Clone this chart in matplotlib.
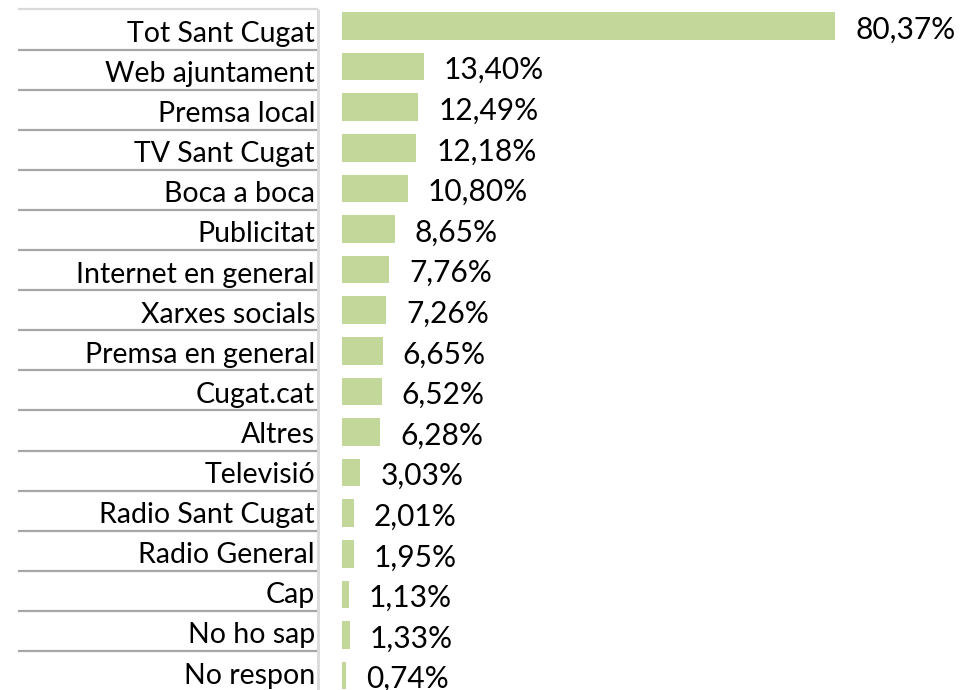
import matplotlib
matplotlib.use("Agg")
import matplotlib.pyplot as plt

categories = ["Tot Sant Cugat", "Web ajuntament", "Premsa local", "TV Sant Cugat",
              "Boca a boca", "Publicitat", "Internet en general", "Xarxes socials",
              "Premsa en general", "Cugat.cat", "Altres", "Televisió",
              "Radio Sant Cugat", "Radio General", "Cap", "No ho sap", "No respon"]
values = [80.37, 13.40, 12.49, 12.18, 10.80, 8.65, 7.76, 7.26, 6.65, 6.52, 6.28,
          3.03, 2.01, 1.95, 1.13, 1.33, 0.74]
value_labels = ["80,37%", "13,40%", "12,49%", "12,18%", "10,80%", "8,65%", "7,76%",
                "7,26%", "6,65%", "6,52%", "6,28%", "3,03%", "2,01%", "1,95%",
                "1,13%", "1,33%", "0,74%"]

FONT = "Lato"
FS_CAT = 20.5
FS_VAL = 21.5
BAR_COLOR = "#c4d79b"
W, H = 974, 690

fig = plt.figure(figsize=(W / 100, H / 100), dpi=100)
fig.patch.set_facecolor("white")

n = len(categories)

# ---- bar axes ----
px_unit = 6.138
x0_px = 318
bar_start_px = 341.7
xmin = -(bar_start_px - x0_px) / px_unit
xmax = (W - bar_start_px) / px_unit
row_h = 40.6
top_px = 26 - row_h / 2
bot_px = top_px + n * row_h
ax = fig.add_axes([x0_px / W, (H - bot_px) / H, (W - x0_px) / W, (bot_px - top_px) / H])
ax.set_xlim(xmin, xmax)
ax.set_ylim(n - 0.5, -0.5)
ax.barh(range(n), values, height=0.68, color=BAR_COLOR, linewidth=0)
gap = 20 / px_unit
for i, (v, lab) in enumerate(zip(values, value_labels)):
    ax.text(v + gap, i + 0.31, lab, va="baseline", ha="left", fontsize=FS_VAL,
            family=FONT, color="black")
ax.axis("off")

# ---- label table axes ----
lrow_h = 40.1
ltop_px = 9.5
lbot_px = ltop_px + n * lrow_h
axl = fig.add_axes([0, (H - lbot_px) / H, x0_px / W, (lbot_px - ltop_px) / H])
axl.set_xlim(0, x0_px)
axl.set_ylim(n - 0.5, -0.5)
axl.axis("off")
for i, c in enumerate(categories):
    axl.text(315, i + 0.31, c, ha="right", va="baseline", fontsize=FS_CAT,
             family=FONT, color="black")
# table lines
axl.hlines([-0.5], 18, x0_px, colors="#d9d9d9", linewidth=1.6, clip_on=False)
axl.hlines([k + 0.5 for k in range(n - 1)], 18, x0_px, colors="#a6a6a6",
           linewidth=1.6, clip_on=False)
axl.vlines([x0_px - 0.5], -0.5, n - 0.5, colors="#d9d9d9", linewidth=2.0,
           clip_on=False)

fig.savefig("out.png", dpi=100, facecolor="white")
